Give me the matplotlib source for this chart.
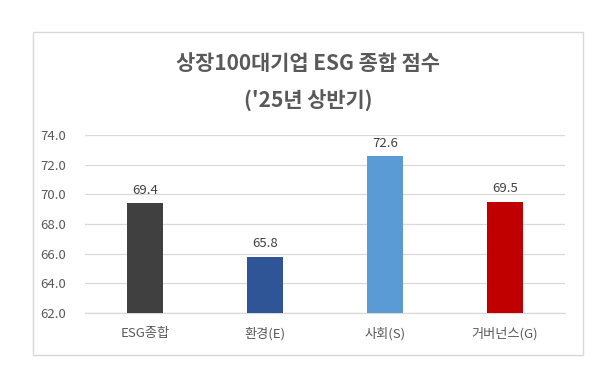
import matplotlib.pyplot as plt
import numpy as np
from matplotlib.patches import Rectangle

plt.rcParams['font.family'] = ['Noto Sans CJK KR', 'DejaVu Sans']

categories = ['ESG종합', '환경(E)', '사회(S)', '거버넌스(G)']
scores = [69.4, 65.8, 72.6, 69.5]
colors = ['#404040', '#2F5597', '#5B9BD5', '#C00000']
yticks = [62.0, 64.0, 66.0, 68.0, 70.0, 72.0, 74.0]

fig = plt.figure(figsize=(6.1, 3.85), dpi=100)
fig.patch.set_facecolor('white')

# outer chart border
fig.patches.append(Rectangle((33 / 610, 1 - 355 / 385), 550 / 610, 323 / 385,
                             transform=fig.transFigure, fill=False,
                             edgecolor='#D9D9D9', linewidth=1.0))

ax = fig.add_axes([85 / 610, 1 - 313 / 385, 480 / 610, 178 / 385])
x = np.arange(len(categories))
ax.bar(x, scores, width=0.306, color=colors, zorder=3)

ax.set_xlim(-0.5, len(categories) - 0.5)
ax.set_ylim(62, 74)
ax.set_yticks(yticks)
ax.set_yticklabels([f'{v:.1f}' for v in yticks])
ax.set_xticks(x)
ax.set_xticklabels(categories)
ax.tick_params(axis='both', length=0, labelsize=9.5, colors='#595959')
ax.tick_params(axis='y', pad=14)
ax.tick_params(axis='x', pad=10)
ax.grid(axis='y', color='#D9D9D9', linewidth=0.9, zorder=0)
for s in ['top', 'right', 'left']:
    ax.spines[s].set_visible(False)
ax.spines['bottom'].set_color('#D9D9D9')
ax.spines['bottom'].set_linewidth(0.9)

for xi, v in zip(x, scores):
    ax.annotate(f'{v:.1f}', (xi, v), xytext=(0, 4.5), textcoords='offset points',
                ha='center', va='bottom', fontsize=9.5, color='#404040')

fig.text(308 / 610, 1 - 64 / 385, '상장100대기업 ESG 종합 점수', ha='center', va='center',
         fontsize=15, fontweight='bold', color='#595959')
fig.text(308 / 610, 1 - 101 / 385, "('25년 상반기)", ha='center', va='center',
         fontsize=15, fontweight='bold', color='#595959')

fig.savefig('out.png', dpi=100)
